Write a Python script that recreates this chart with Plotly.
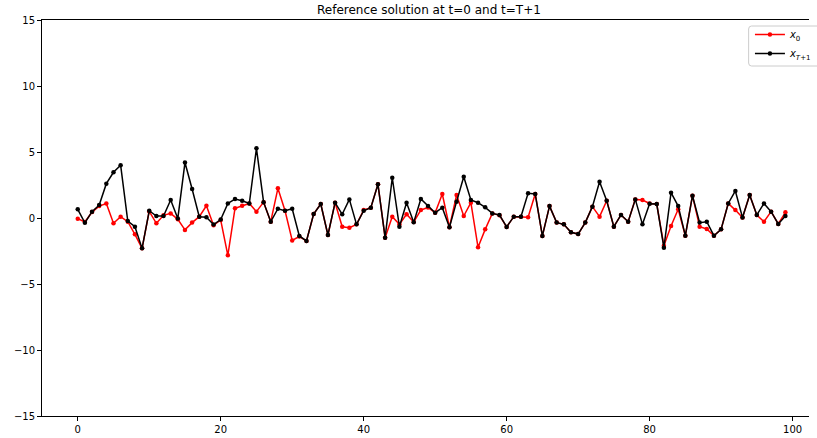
import plotly.graph_objects as go

# Time index of the grid points
t = list(range(100))

# Solution at t=0
x0 = [-0.05, -0.3, 0.45, 0.9, 1.1, -0.4, 0.1, -0.28, -1.24, -2.3,
      0.5, -0.4, 0.2, 0.35, -0.1, -0.9, -0.35, 0.1, 0.93, -0.55,
      -0.15, -2.83, 0.73, 0.93, 1.1, 0.48, 1.2, -0.28, 2.25, 0.55,
      -1.7, -1.4, -1.74, 0.3, 1.06, -1.29, 1.16, -0.66, -0.73, -0.48,
      0.6, 0.78, 2.55, -1.49, 0.1, -0.48, 0.28, -0.3, 0.6, 0.8,
      0.4, 1.82, -0.7, 1.74, 0.15, 1.16, -2.22, -0.86, 0.35, 0.2,
      -0.68, 0.1, 0.1, 0.05, 1.82, -1.36, 0.9, -0.35, -0.48, -1.08,
      -1.22, -0.35, 0.86, 0.1, 1.31, -0.66, 0.23, -0.28, 1.41, 1.36,
      1.1, 1.06, -2.1, -0.6, 0.66, -1.34, 1.69, -0.66, -0.83, -1.34,
      -0.86, 1.1, 0.6, 0.03, 1.74, 0.23, -0.28, 0.48, -0.45, 0.43]

# Solution at t=T+1
xT1 = [0.66, -0.36, 0.48, 0.98, 2.6, 3.46, 4.0, -0.23, -0.66, -2.3,
       0.55, 0.15, 0.15, 1.36, -0.03, 4.2, 2.2, 0.1, 0.05, -0.5,
       -0.12, 1.1, 1.44, 1.3, 1.1, 5.28, 1.2, -0.28, 0.7, 0.55,
       0.7, -1.36, -1.74, 0.3, 1.06, -1.29, 1.16, 0.28, 1.41, -0.48,
       0.55, 0.78, 2.55, -1.49, 3.05, -0.66, 1.16, -0.33, 1.44, 0.9,
       0.4, 0.78, -0.7, 1.24, 3.13, 1.36, 1.16, 0.81, 0.35, 0.23,
       -0.68, 0.1, 0.1, 1.87, 1.82, -1.36, 0.9, -0.35, -0.48, -1.08,
       -1.22, -0.35, 0.86, 2.75, 1.31, -0.66, 0.23, -0.28, 1.41, -0.48,
       1.08, 1.06, -2.25, 1.92, 0.9, -1.34, 1.69, -0.35, -0.28, -1.34,
       -0.86, 1.1, 2.05, 0.03, 1.74, 0.23, 1.1, 0.48, -0.45, 0.15]

x_ticks = [0, 20, 40, 60, 80, 100]
y_ticks = [-15, -10, -5, 0, 5, 10, 15]
y_tick_text = ["\u221215", "\u221210", "\u22125", "0", "5", "10", "15"]

W, H = 817, 438
ML, MR, MT, MB = 42, 0, 20, 22
PW, PH = W - ML - MR, H - MT - MB


def px_to_paper(px, py):
    return (px - ML) / PW, 1 - (py - MT) / PH


fig = go.Figure()
fig.add_trace(go.Scatter(
    x=t, y=x0, mode="lines+markers", name="<i>x</i><sub>0</sub>",
    line=dict(color="red", width=1.5), marker=dict(color="red", size=4.5)))
fig.add_trace(go.Scatter(
    x=t, y=xT1, mode="lines+markers", name="<i>x</i><sub><i>T</i>+1</sub>",
    line=dict(color="black", width=1.5), marker=dict(color="black", size=4.5)))

axis_common = dict(
    showgrid=False, zeroline=False, showline=True, linecolor="black",
    linewidth=1, ticks="outside", ticklen=4, tickwidth=1, tickcolor="black",
    tickfont=dict(family="DejaVu Sans", size=10, color="black"),
    automargin=False)

# Rounded legend frame, running off the right edge of the figure
x1p, y1p = px_to_paper(756, 26)
x2p, y2p = px_to_paper(845, 66)
rx, ry = 3 / PW, 3 / PH
frame = (f"M {x1p + rx},{y1p} L {x2p - rx},{y1p} Q {x2p},{y1p} {x2p},{y1p - ry} "
         f"L {x2p},{y2p + ry} Q {x2p},{y2p} {x2p - rx},{y2p} "
         f"L {x1p + rx},{y2p} Q {x1p},{y2p} {x1p},{y2p + ry} "
         f"L {x1p},{y1p - ry} Q {x1p},{y1p} {x1p + rx},{y1p} Z")

fig.update_layout(
    width=W, height=H,
    margin=dict(l=ML, r=MR, t=MT, b=MB),
    paper_bgcolor="white", plot_bgcolor="white",
    font=dict(family="DejaVu Sans", size=10, color="black"),
    title=dict(text="Reference solution at t=0 and t=T+1",
               x=0.5045, xref="paper", xanchor="center",
               y=1 - 10 / H, yanchor="middle",
               font=dict(family="DejaVu Sans", size=12, color="black")),
    xaxis=dict(range=[-5.0, 102.3], tickvals=x_ticks, mirror=True, **axis_common),
    yaxis=dict(range=[-15, 15], tickvals=y_ticks, ticktext=y_tick_text, **axis_common),
    shapes=[dict(type="path", path=frame, xref="paper", yref="paper",
                 line=dict(color="#cccccc", width=1), fillcolor="white",
                 layer="above")],
    legend=dict(x=0.923, y=1.0, xanchor="left", yanchor="top",
                bgcolor="rgba(0,0,0,0)", borderwidth=0,
                font=dict(family="DejaVu Sans", size=10, color="black"),
                itemwidth=30, tracegroupgap=0),
    showlegend=True,
)

fig.write_html("out.html")
